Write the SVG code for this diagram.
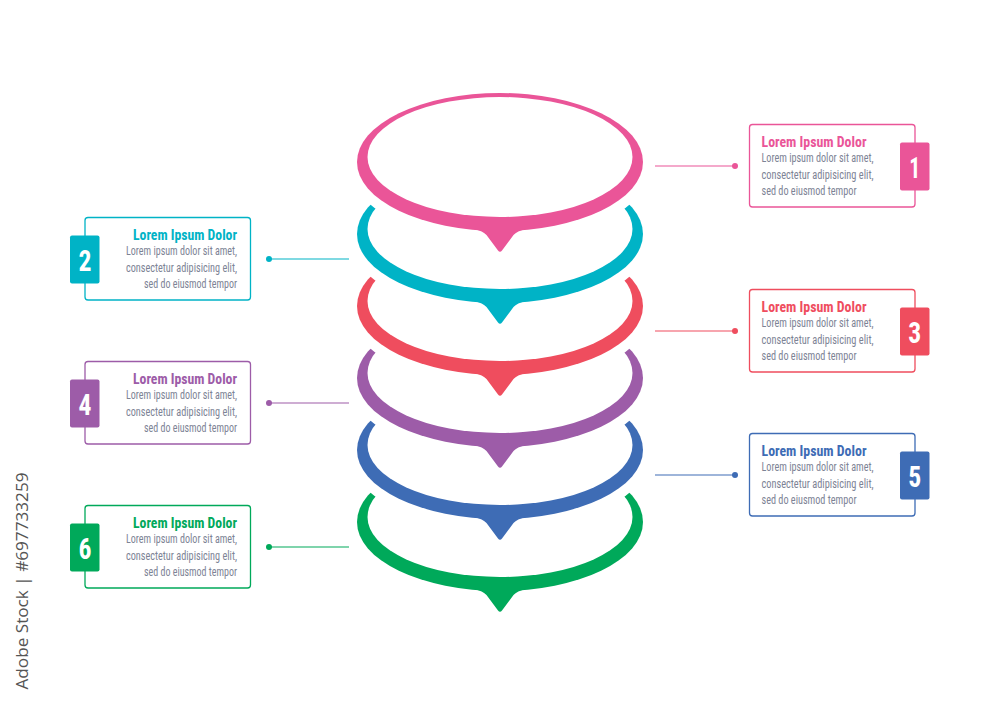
<svg xmlns="http://www.w3.org/2000/svg" xmlns:xlink="http://www.w3.org/1999/xlink" width="1000" height="707" viewBox="0 0 1000 707">
<style>
.box{fill:#fff;stroke-width:1.3}
.title{font-family:"Roboto Condensed","Liberation Sans Narrow",Roboto,sans-serif;font-weight:bold;font-size:15.5px}
.body{font-family:"Roboto Condensed","Liberation Sans Narrow",Roboto,sans-serif;font-size:12px;fill:#7d8395}
.num{font-family:"Roboto Condensed","Liberation Sans Narrow",Roboto,sans-serif;font-weight:bold;font-size:30px;fill:#fff;text-anchor:middle}
.conn{stroke-width:1.2;fill:none}
.halo{fill:#fff;stroke:#fff;stroke-width:20;stroke-linejoin:round}
.inner{fill:#fff}
.wm{font-family:"Open Sans","DejaVu Sans",sans-serif;font-size:17px;fill:#555}
</style>
<defs>
<g id="ringShape">
<ellipse cx="500" cy="162" rx="143" ry="69"/>
<path d="M474 229 Q483 231 486.5 235 L498 250.5 Q500 253 502 250.5 L513.5 235 Q517 231 526 229 Z"/>
</g>
<ellipse id="ringInner" cx="500" cy="157" rx="132.5" ry="60"/>
</defs>
<rect width="1000" height="707" fill="#fff"/>

<g id="ring6">
<use xlink:href="#ringShape" class="halo" y="360"/>
<use xlink:href="#ringShape" fill="#00a95a" y="360"/>
<use xlink:href="#ringInner" class="inner" y="360"/>
</g>
<g id="ring5">
<use xlink:href="#ringShape" class="halo" y="288"/>
<use xlink:href="#ringShape" fill="#3e6cb5" y="288"/>
<use xlink:href="#ringInner" class="inner" y="288"/>
</g>
<g id="ring4">
<use xlink:href="#ringShape" class="halo" y="216"/>
<use xlink:href="#ringShape" fill="#9d5ca8" y="216"/>
<use xlink:href="#ringInner" class="inner" y="216"/>
</g>
<g id="ring3">
<use xlink:href="#ringShape" class="halo" y="144"/>
<use xlink:href="#ringShape" fill="#ef4d5e" y="144"/>
<use xlink:href="#ringInner" class="inner" y="144"/>
</g>
<g id="ring2">
<use xlink:href="#ringShape" class="halo" y="72"/>
<use xlink:href="#ringShape" fill="#00b3c6" y="72"/>
<use xlink:href="#ringInner" class="inner" y="72"/>
</g>
<g id="ring1">
<use xlink:href="#ringShape" class="halo" y="0"/>
<use xlink:href="#ringShape" fill="#ea5598" y="0"/>
<use xlink:href="#ringInner" class="inner" y="0"/>
</g>

<g id="connectors">
<line class="conn" x1="655" y1="166" x2="735" y2="166" stroke="#ea5598"/><circle cx="735" cy="166" r="3" fill="#ea5598"/>
<line class="conn" x1="269" y1="259" x2="349" y2="259" stroke="#00b3c6"/><circle cx="269" cy="259" r="3" fill="#00b3c6"/>
<line class="conn" x1="655" y1="331" x2="735" y2="331" stroke="#ef4d5e"/><circle cx="735" cy="331" r="3" fill="#ef4d5e"/>
<line class="conn" x1="269" y1="403" x2="349" y2="403" stroke="#9d5ca8"/><circle cx="269" cy="403" r="3" fill="#9d5ca8"/>
<line class="conn" x1="655" y1="475" x2="735" y2="475" stroke="#3e6cb5"/><circle cx="735" cy="475" r="3" fill="#3e6cb5"/>
<line class="conn" x1="269" y1="547" x2="349" y2="547" stroke="#00a95a"/><circle cx="269" cy="547" r="3" fill="#00a95a"/>
</g>

<g id="box1">
<rect class="box" x="749.5" y="124.5" width="165.5" height="82.5" rx="3" stroke="#ea5598"/>
<rect x="900" y="142.5" width="29.5" height="48" rx="2" fill="#ea5598"/>
<text class="num" x="914.7" y="178" textLength="11" lengthAdjust="spacingAndGlyphs">1</text>
<text class="title" x="761.5" y="146.7" fill="#ea5598" textLength="105" lengthAdjust="spacingAndGlyphs">Lorem Ipsum Dolor</text>
<text class="body" x="761.5" y="162" textLength="112" lengthAdjust="spacingAndGlyphs">Lorem ipsum dolor sit amet,</text>
<text class="body" x="761.5" y="178.5" textLength="112" lengthAdjust="spacingAndGlyphs">consectetur adipisicing elit,</text>
<text class="body" x="761.5" y="195" textLength="95" lengthAdjust="spacingAndGlyphs">sed do eiusmod tempor</text>
</g>

<g id="box3">
<rect class="box" x="749.5" y="289.5" width="165.5" height="82.5" rx="3" stroke="#ef4d5e"/>
<rect x="900" y="307.5" width="29.5" height="48" rx="2" fill="#ef4d5e"/>
<text class="num" x="914.7" y="343" textLength="13" lengthAdjust="spacingAndGlyphs">3</text>
<text class="title" x="761.5" y="311.7" fill="#ef4d5e" textLength="105" lengthAdjust="spacingAndGlyphs">Lorem Ipsum Dolor</text>
<text class="body" x="761.5" y="327" textLength="112" lengthAdjust="spacingAndGlyphs">Lorem ipsum dolor sit amet,</text>
<text class="body" x="761.5" y="343.5" textLength="112" lengthAdjust="spacingAndGlyphs">consectetur adipisicing elit,</text>
<text class="body" x="761.5" y="360" textLength="95" lengthAdjust="spacingAndGlyphs">sed do eiusmod tempor</text>
</g>

<g id="box5">
<rect class="box" x="749.5" y="433.5" width="165.5" height="82.5" rx="3" stroke="#3e6cb5"/>
<rect x="900" y="451.5" width="29.5" height="48" rx="2" fill="#3e6cb5"/>
<text class="num" x="914.7" y="487" textLength="13" lengthAdjust="spacingAndGlyphs">5</text>
<text class="title" x="761.5" y="455.7" fill="#3e6cb5" textLength="105" lengthAdjust="spacingAndGlyphs">Lorem Ipsum Dolor</text>
<text class="body" x="761.5" y="471" textLength="112" lengthAdjust="spacingAndGlyphs">Lorem ipsum dolor sit amet,</text>
<text class="body" x="761.5" y="487.5" textLength="112" lengthAdjust="spacingAndGlyphs">consectetur adipisicing elit,</text>
<text class="body" x="761.5" y="504" textLength="95" lengthAdjust="spacingAndGlyphs">sed do eiusmod tempor</text>
</g>

<g id="box2" text-anchor="end">
<rect class="box" x="85" y="217.5" width="165.5" height="82.5" rx="3" stroke="#00b3c6"/>
<rect x="70" y="235.5" width="29.5" height="48" rx="2" fill="#00b3c6"/>
<text class="num" x="85" y="271" textLength="13" lengthAdjust="spacingAndGlyphs">2</text>
<text class="title" x="237" y="239.7" fill="#00b3c6" textLength="104" lengthAdjust="spacingAndGlyphs">Lorem Ipsum Dolor</text>
<text class="body" x="237" y="255" textLength="111" lengthAdjust="spacingAndGlyphs">Lorem ipsum dolor sit amet,</text>
<text class="body" x="237" y="271.5" textLength="111" lengthAdjust="spacingAndGlyphs">consectetur adipisicing elit,</text>
<text class="body" x="237" y="288" textLength="93" lengthAdjust="spacingAndGlyphs">sed do eiusmod tempor</text>
</g>

<g id="box4" text-anchor="end">
<rect class="box" x="85" y="361.5" width="165.5" height="82.5" rx="3" stroke="#9d5ca8"/>
<rect x="70" y="379.5" width="29.5" height="48" rx="2" fill="#9d5ca8"/>
<text class="num" x="85" y="415" textLength="13" lengthAdjust="spacingAndGlyphs">4</text>
<text class="title" x="237" y="383.7" fill="#9d5ca8" textLength="104" lengthAdjust="spacingAndGlyphs">Lorem Ipsum Dolor</text>
<text class="body" x="237" y="399" textLength="111" lengthAdjust="spacingAndGlyphs">Lorem ipsum dolor sit amet,</text>
<text class="body" x="237" y="415.5" textLength="111" lengthAdjust="spacingAndGlyphs">consectetur adipisicing elit,</text>
<text class="body" x="237" y="432" textLength="93" lengthAdjust="spacingAndGlyphs">sed do eiusmod tempor</text>
</g>

<g id="box6" text-anchor="end">
<rect class="box" x="85" y="505.5" width="165.5" height="82.5" rx="3" stroke="#00a95a"/>
<rect x="70" y="523.5" width="29.5" height="48" rx="2" fill="#00a95a"/>
<text class="num" x="85" y="559" textLength="13" lengthAdjust="spacingAndGlyphs">6</text>
<text class="title" x="237" y="527.7" fill="#00a95a" textLength="104" lengthAdjust="spacingAndGlyphs">Lorem Ipsum Dolor</text>
<text class="body" x="237" y="543" textLength="111" lengthAdjust="spacingAndGlyphs">Lorem ipsum dolor sit amet,</text>
<text class="body" x="237" y="559.5" textLength="111" lengthAdjust="spacingAndGlyphs">consectetur adipisicing elit,</text>
<text class="body" x="237" y="576" textLength="93" lengthAdjust="spacingAndGlyphs">sed do eiusmod tempor</text>
</g>

<text class="wm" transform="translate(28,581) rotate(-90)" text-anchor="middle" textLength="217" lengthAdjust="spacingAndGlyphs">Adobe Stock | #697733259</text>
</svg>
